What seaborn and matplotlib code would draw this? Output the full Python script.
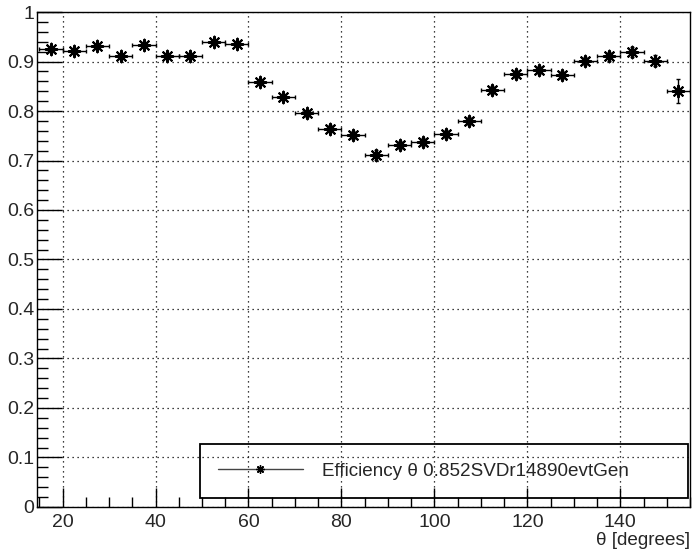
import numpy as np
import pandas as pd
import matplotlib
matplotlib.use('Agg')
import matplotlib.pyplot as plt
from matplotlib.lines import Line2D
from matplotlib.patches import Rectangle
from matplotlib.ticker import MultipleLocator, FormatStrFormatter
import seaborn as sns

# --- dados ---
theta_centro = [17.5, 22.5, 27.5, 32.5, 37.5, 42.5, 47.5, 52.5, 57.5,
                62.5, 67.5, 72.5, 77.5, 82.5, 87.5, 92.5, 97.5, 102.5,
                107.5, 112.5, 117.5, 122.5, 127.5, 132.5, 137.5, 142.5,
                147.5, 152.5]
eficiencia = [0.925, 0.922, 0.931, 0.911, 0.934, 0.912, 0.912, 0.939, 0.936,
              0.858, 0.828, 0.795, 0.764, 0.752, 0.711, 0.731, 0.737, 0.754,
              0.779, 0.842, 0.874, 0.882, 0.872, 0.901, 0.911, 0.919,
              0.902, 0.840]
erro_y = [0.005, 0.005, 0.005, 0.005, 0.005, 0.005, 0.005, 0.005, 0.005,
          0.006, 0.006, 0.007, 0.007, 0.008, 0.010, 0.008, 0.008, 0.008,
          0.008, 0.008, 0.008, 0.008, 0.008, 0.008, 0.009, 0.010,
          0.012, 0.024]
meia_largura = [2.5] * len(theta_centro)

rotulo_legenda = 'Efficiency \u03b8 0.852SVDr14890evtGen'

df = pd.DataFrame({'theta': theta_centro, 'eff': eficiencia,
                   'err': erro_y, 'dx': meia_largura})

# --- estilo ---
sns.set_style('white')
plt.rcParams['font.family'] = ['Liberation Sans', 'DejaVu Sans']

fig = plt.figure(figsize=(6.93, 5.51), dpi=100)
ax = fig.add_axes([0.0534, 0.0799, 0.9423, 0.8983])

ax.errorbar(df['theta'], df['eff'], xerr=df['dx'], yerr=df['err'],
            fmt='none', ecolor='black', elinewidth=1.0, capsize=1.5,
            capthick=1.0, zorder=3)
sns.scatterplot(data=df, x='theta', y='eff', marker=(8, 2, 0), s=70,
                color='black', linewidth=1.5, edgecolor='black', ax=ax,
                zorder=4, legend=False)

ax.set_xlim(14.5, 155)
ax.set_ylim(0, 1)

ax.xaxis.set_major_locator(MultipleLocator(20))
ax.xaxis.set_minor_locator(MultipleLocator(5))
ax.yaxis.set_major_locator(MultipleLocator(0.1))
ax.yaxis.set_minor_locator(MultipleLocator(0.02))
ax.yaxis.set_major_formatter(FormatStrFormatter('%g'))

ax.tick_params(axis='both', which='both', direction='in', labelsize=14,
               bottom=True, left=True, top=False, right=False,
               width=1.0, color='black')
ax.tick_params(axis='x', which='major', length=14, pad=5)
ax.tick_params(axis='x', which='minor', length=7)
ax.tick_params(axis='y', which='major', length=18, pad=2)
ax.tick_params(axis='y', which='minor', length=8)

ax.grid(True, which='major', linestyle=(0, (1, 3)), color='black',
        linewidth=0.9)

for sp in ax.spines.values():
    sp.set_color('black')
    sp.set_linewidth(1.0)

ax.set_xlabel('\u03b8 [degrees]', fontsize=13.6, loc='right', labelpad=1)
ax.set_ylabel('')

# --- legenda estilo ROOT ---
caixa = Rectangle((0.25, 0.018), 0.747, 0.109, transform=ax.transAxes,
                  facecolor='none', edgecolor='black', linewidth=1.3,
                  zorder=5)
ax.add_patch(caixa)
handle = Line2D([], [], color='#444444', linewidth=1.0, marker=(8, 2, 0),
                markersize=6, markeredgecolor='black', markeredgewidth=1.0)
ax.legend([handle], [rotulo_legenda], loc='center left',
          bbox_to_anchor=(0.277, 0.072), frameon=False, fontsize=13.6,
          handlelength=4.5, handletextpad=1.0, numpoints=1,
          borderaxespad=0, borderpad=0)

plt.savefig('out.png', dpi=100)
plt.close()
